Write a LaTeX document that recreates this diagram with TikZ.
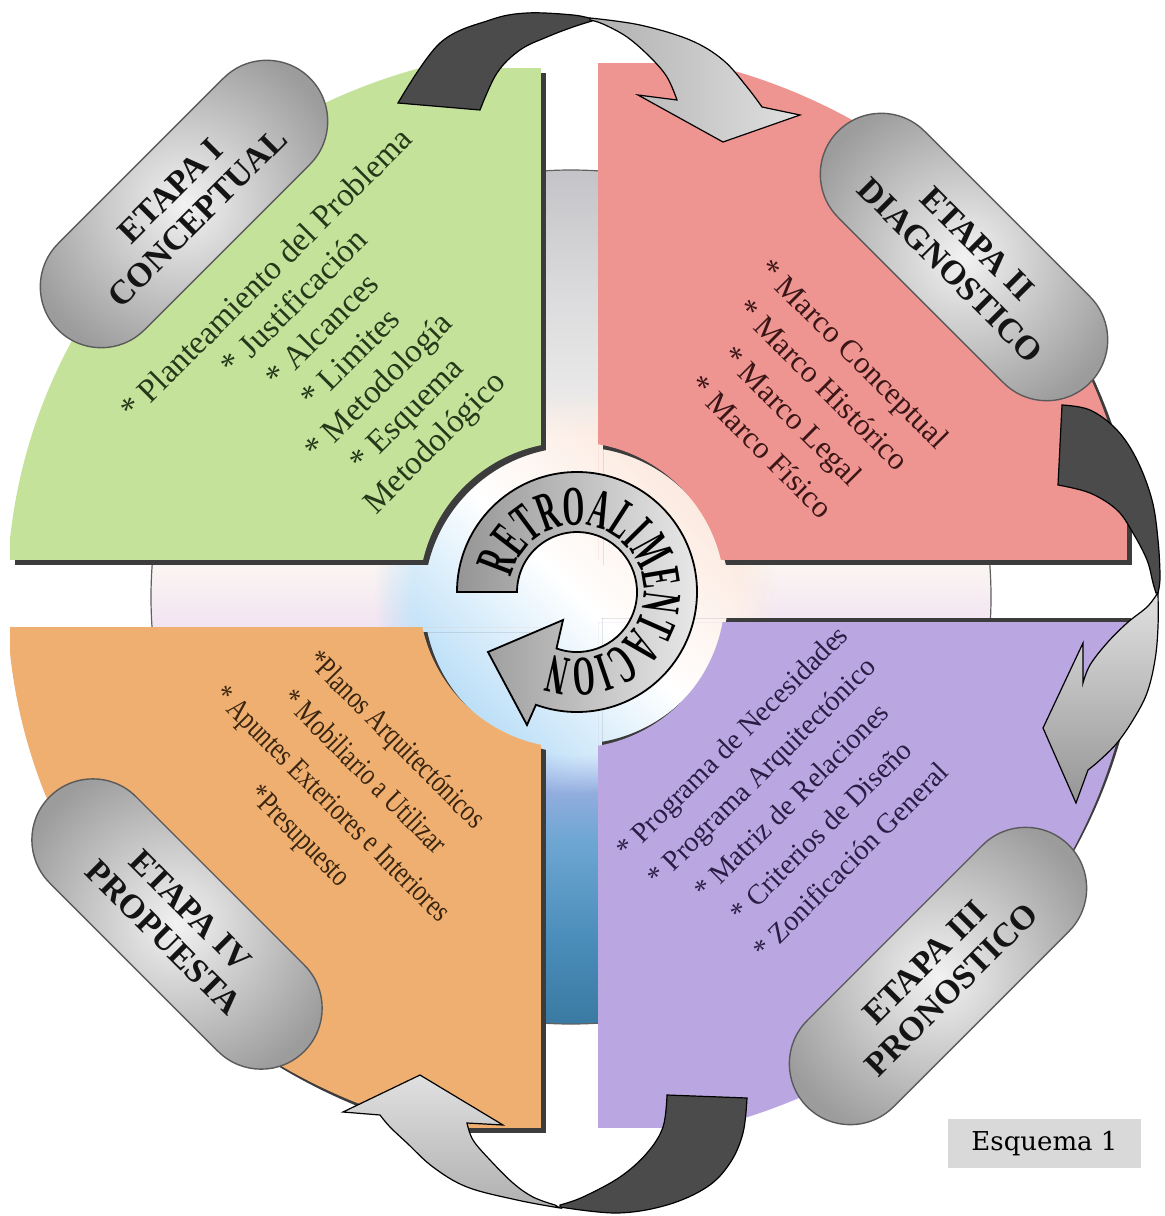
\documentclass[tikz,border=0pt]{standalone}
\usepackage{fontspec}
\setmainfont{Liberation Serif}
\newfontfamily\condfont[FakeStretch=0.78]{Liberation Serif}
\newfontfamily\ringfont[FakeStretch=0.5]{Liberation Serif}
\newfontfamily\boxfont{DejaVu Serif}
\usetikzlibrary{decorations.text,fadings}
\definecolor{qgreen}{HTML}{C5E29B}
\definecolor{qred}{HTML}{EE9491}
\definecolor{qpurple}{HTML}{BAA6E0}
\definecolor{qorange}{HTML}{EEAF70}
\definecolor{qshadow}{HTML}{3C3C3C}
\definecolor{gtext}{HTML}{26381A}
\definecolor{rtext}{HTML}{3A1616}
\definecolor{ptext}{HTML}{2A1D45}
\definecolor{otext}{HTML}{3A2510}
\definecolor{pillin}{HTML}{F2F2F2}
\definecolor{pillout}{HTML}{9C9C9C}
\definecolor{pillline}{HTML}{5A5A5A}
\definecolor{pilltext}{HTML}{141414}
\definecolor{arrowdark}{HTML}{4B4B4B}
\definecolor{lgA}{HTML}{B0B0B0}
\definecolor{lgB}{HTML}{E0E0E0}
\definecolor{esqgray}{HTML}{D9D9D9}
\definecolor{cd0}{HTML}{3A7AA2}
\definecolor{cd1}{HTML}{4A8DBA}
\definecolor{cd2}{HTML}{6EA6D2}
\definecolor{cd3}{HTML}{A9B2E6}
\definecolor{cd4}{HTML}{D8C0EC}
\definecolor{cd5}{HTML}{F2E4F2}
\definecolor{cd6}{HTML}{FBF6F2}
\definecolor{cd7}{HTML}{F2F0EE}
\definecolor{cd8}{HTML}{DCDCDE}
\definecolor{cd9}{HTML}{C4C4C8}
\definecolor{cdblue}{HTML}{A9D6F5}
\definecolor{cdpeach}{HTML}{FBE3D6}
\definecolor{discline}{HTML}{606060}
\definecolor{ringA}{HTML}{959595}
\definecolor{ringB}{HTML}{E8E8E8}
\pgfdeclareverticalshading{cdshade}{100bp}{color(0bp)=(cd0); color(25bp)=(cd0); color(29.9bp)=(cd1); color(35.75bp)=(cd2); color(40.45bp)=(cd3); color(44.55bp)=(cd4); color(48.25bp)=(cd5); color(52.15bp)=(cd6); color(58.6bp)=(cd7); color(67.4bp)=(cd8); color(75bp)=(cd9); color(100bp)=(cd9)}
\newcommand\Qpiece[5]{%
  \begin{scope}
    \clip (572,596) ellipse [x radius=565, y radius=548];
    \begin{scope}[even odd rule]
      \clip (#1,#2) rectangle (#3,#4) (572,595) circle [radius=153];
      \fill[#5] (#1,#2) rectangle (#3,#4);
    \end{scope}
  \end{scope}}
\newcommand\ringtext{\ringfont\bfseries\fontsize{28}{28}\selectfont}
\begin{document}
\begin{tikzpicture}[x=0.5pt,y=-0.5pt,
  pill/.style={draw=pillline, line width=0.7pt, rounded corners=30.5pt,
    inner color=pillin, outer color=pillout, minimum width=178pt,
    minimum height=61pt, align=center, text=pilltext,
    font=\bfseries\fontsize{17}{19}\selectfont},
  darkband/.style={fill=arrowdark, draw=black, line width=0.6pt},
  lightband/.style={draw=black, line width=0.6pt},
  qtext/.style={align=center, inner sep=0pt}]
\fill[white] (0,0) rectangle (1165,1216);
\useasboundingbox (0,0) rectangle (1165,1216);
% disc
\shade[shading=cdshade] (571,597) ellipse [x radius=420, y radius=427];
\shade[top color=cdpeach, bottom color=cdblue, middle color=white, shading angle=-45,
  path fading=circle with fuzzy edge 20 percent] (575,594) circle [radius=200];
\draw[discline, line width=0.6pt] (571,597) ellipse [x radius=420, y radius=427];
% quadrants
\begin{scope}[shift={(5,5)}]\Qpiece{10}{68}{541}{560}{qshadow}\end{scope}
\Qpiece{10}{68}{541}{560}{qgreen}
\begin{scope}[shift={(5,5)}]\Qpiece{598}{63}{1127}{560}{qshadow}\end{scope}
\Qpiece{598}{63}{1127}{560}{qred}
\begin{scope}[shift={(4,-4)}]\Qpiece{598}{622}{1127}{1128}{qshadow}\end{scope}
\Qpiece{598}{622}{1127}{1128}{qpurple}
\begin{scope}[shift={(5,5)}]\Qpiece{10}{627}{541}{1128}{qshadow}\end{scope}
\Qpiece{10}{627}{541}{1128}{qorange}
% central ring arrow
\shadedraw[left color=ringA, right color=ringB, draw=black, line width=0.9pt]
  (577,592) ++(-180:120) arc [start angle=-180, end angle=110, radius=120]
  -- (527,725) -- (488,652) -- (563,620) -- (556.5,648.4)
  arc [start angle=110, end angle=-180, radius=60] -- cycle;
\path[decorate, decoration={text along path, text align=center,
  text={|\ringtext|RETROALIMENTACION}}]
  (577,592) ++(-170:67) arc [start angle=-170, end angle=114, radius=67];
% quadrant texts
\node[qtext, rotate=45, text=gtext, font=\fontsize{16.5}{19.8}\selectfont] (tg) at (352,360)
  {* Planteamiento del Problema\\* Justificación\\* Alcances\\* Limites\\* Metodología\\* Esquema\\Metodológico};
\node[qtext, rotate=-45, text=rtext, font=\fontsize{15.5}{21.9}\selectfont] (tr) at (808,400)
  {* Marco Conceptual\\* Marco Histórico\\* Marco Legal\\* Marco Físico};
\node[qtext, rotate=45, text=ptext, font=\fontsize{14.2}{21}\selectfont] (tp) at (791,801)
  {* Programa de Necesidades\\* Programa Arquitectónico\\* Matriz de Relaciones\\* Criterios de Diseño\\* Zonificación General};
\node[qtext, rotate=-45, text=otext, font=\condfont\fontsize{15.5}{22.7}\selectfont] (to) at (347,789)
  {*Planos Arquitectónicos\\* Mobiliario a Utilizar\\* Apuntes Exteriores e Interiores\\*Presupuesto};
% top arrow
\filldraw[darkband] plot[smooth, tension=0.6] coordinates {(398,103) (440,43) (490,20) (527,13) (573,15) (592,19)}
  -- plot[smooth, tension=0.6] coordinates {(592,21) (573,27) (547,37) (520,50) (497,73) (480,110)} -- cycle;
\shadedraw[lightband, left color=lgA, right color=lgB]
  plot[smooth, tension=0.6] coordinates {(590,18) (640,25) (690,40) (723,60) (747,87) (762,107)}
  -- (800,115) -- (723,142) -- (638,95) -- (677,100)
  -- plot[smooth, tension=0.6] coordinates {(677,100) (667,77) (650,57) (627,37) (603,24) (590,20)} -- cycle;
% right arrow
\filldraw[darkband] plot[smooth, tension=0.6] coordinates {(1062,405) (1090,410) (1117,430) (1137,460) (1152,500) (1158,540) (1160,577) (1158,593)}
  -- plot[smooth, tension=0.6] coordinates {(1156,593) (1153,583) (1147,560) (1133,533) (1117,510) (1090,493) (1058,485)} -- cycle;
\shadedraw[lightband, top color=lgB, bottom color=lgA!85!black]
  plot[smooth, tension=0.6] coordinates {(1158,593) (1158,627) (1155,660) (1147,693) (1133,720) (1117,743) (1100,760) (1088,770)}
  -- (1076,803) -- (1043,728) -- (1083,643) -- (1083,683)
  -- plot[smooth, tension=0.6] coordinates {(1083,683) (1090,665) (1107,643) (1127,623) (1147,607) (1157,594)} -- cycle;
% bottom arrow
\filldraw[darkband] plot[smooth, tension=0.6] coordinates {(747,1098) (743,1133) (730,1163) (707,1187) (667,1205) (617,1213) (560,1207)}
  -- plot[smooth, tension=0.6] coordinates {(560,1205) (583,1197) (620,1177) (647,1153) (663,1127) (667,1095)} -- cycle;
\shadedraw[lightband, top color=lgB, bottom color=lgA]
  plot[smooth, tension=0.6] coordinates {(560,1208) (517,1200) (467,1187) (433,1167) (407,1143) (390,1127) (380,1115)}
  -- (343,1112) -- (420,1075) -- (503,1125) -- (467,1123)
  -- plot[smooth, tension=0.6] coordinates {(467,1123) (473,1140) (490,1160) (513,1183) (533,1197) (555,1205)} -- cycle;
% stage pills
\node[pill, rotate=45] (p1) at (184,204) {ETAPA I\\CONCEPTUAL};
\node[pill, rotate=-45] (p2) at (964,257) {ETAPA II\\DIAGNOSTICO};
\node[pill, rotate=45, minimum width=185pt] (p3) at (938,976) {ETAPA III\\PRONOSTICO};
\node[pill, rotate=-45, minimum width=180pt] (p4) at (177,924) {ETAPA IV\\PROPUESTA};
% caption box
\node[fill=esqgray, minimum width=96.5pt, minimum height=24.5pt,
  font=\boxfont\fontsize{13}{15}\selectfont] (esq) at (1044.5,1143.5) {Esquema 1};
\end{tikzpicture}
\end{document}
